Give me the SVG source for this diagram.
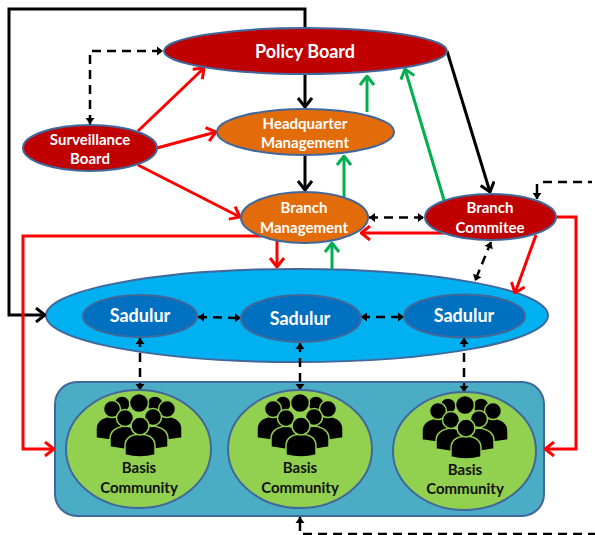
<svg xmlns="http://www.w3.org/2000/svg" xmlns:xlink="http://www.w3.org/1999/xlink" width="595" height="535" viewBox="0 0 595 535">
<style>
.n{stroke:#41689a;stroke-width:2}
.t{font-family:Lato,"Liberation Sans",sans-serif;font-weight:700;text-anchor:middle}
.w{fill:#fff;font-size:15px}
.b{fill:#111;font-size:15px}
.l{font-size:18px}
.c{fill:none;stroke-width:3}
.k{stroke:#000}
.r{stroke:#f00}
.g{stroke:#00b050}
.d{fill:none;stroke:#000;stroke-width:2.500;stroke-dasharray:9 6}
.body{fill:#000;stroke:#92d050;stroke-width:1.500}
</style>
<defs>
<marker id="ak" markerUnits="userSpaceOnUse" viewBox="-11 -8 12 16" refX="0" refY="0" markerWidth="12" markerHeight="16" orient="auto"><path d="M-9-7L0 0L-9 7" fill="none" stroke="#000" stroke-width="3"/></marker>
<marker id="ar" markerUnits="userSpaceOnUse" viewBox="-11 -8 12 16" refX="0" refY="0" markerWidth="12" markerHeight="16" orient="auto"><path d="M-9-7L0 0L-9 7" fill="none" stroke="#f00" stroke-width="3"/></marker>
<marker id="ag" markerUnits="userSpaceOnUse" viewBox="-11 -8 12 16" refX="0" refY="0" markerWidth="12" markerHeight="16" orient="auto"><path d="M-9-7L0 0L-9 7" fill="none" stroke="#00b050" stroke-width="3"/></marker>
<marker id="tri" markerUnits="userSpaceOnUse" viewBox="-7 -5 8 10" refX="0" refY="0" markerWidth="8" markerHeight="10" orient="auto-start-reverse"><path d="M-6-4.500L0 0L-6 4.500Z" fill="#000"/></marker>
<g id="people">
<circle class="body" cx="-17" cy="1" r="8"/><circle class="body" cx="16" cy="1" r="8"/>
<circle class="body" cx="0" cy="0" r="9.500"/>
<path class="body" d="M-43 35V26Q-43 15-28 13Q-10 14-8 26V40Z"/>
<path class="body" d="M43 35V26Q43 15 28 13Q10 14 8 26V40Z"/>
<circle class="body" cx="-27" cy="6" r="8.500"/><circle class="body" cx="28" cy="6" r="8.500"/>
<path class="body" d="M-29 44V36Q-29 25-14 23Q1 24 2 36V49Z"/>
<path class="body" d="M29 44V36Q29 25 14 23Q-1 24-2 36V49Z"/>
<circle class="body" cx="-14" cy="15" r="8.500"/><circle class="body" cx="14" cy="14" r="8.500"/>
<path class="body" d="M-14 52V43Q-14 32 1 31Q16 32 16 43V52Q1 56-14 52Z"/>
<circle class="body" cx="1" cy="23" r="9"/>
</g>
</defs>

<g id="community-panel"><rect class="n" x="55" y="382" width="489" height="134" rx="22" fill="#4bacc6"/></g>
<g id="sadulur-group"><ellipse class="n" cx="297" cy="315.500" rx="251" ry="46.500" fill="#00b0f0"/></g>

<g id="connectors">
<path class="c k" d="M305 28V9H9V315H45" marker-end="url(#ak)"/>
<path class="c k" d="M305 74V107" marker-end="url(#ak)"/>
<path class="c k" d="M305 155V190" marker-end="url(#ak)"/>
<path class="c k" d="M447 51L490 192" marker-end="url(#ak)"/>
<path class="c r" d="M138 131L204 68" marker-end="url(#ar)"/>
<path class="c r" d="M157 148L216 132" marker-end="url(#ar)"/>
<path class="c r" d="M138 165L240 217" marker-end="url(#ar)"/>
<path class="c r" d="M277 237V267" marker-end="url(#ar)"/>
<path class="c r" d="M445 233H361" marker-end="url(#ar)"/>
<path class="c r" d="M536 235L515 293" marker-end="url(#ar)"/>
<path class="c r" d="M262 236H23V449H54" marker-end="url(#ar)"/>
<path class="c r" d="M556 217H576V449H545" marker-end="url(#ar)"/>
<path class="c g" d="M367 112V76" marker-end="url(#ag)"/>
<path class="c g" d="M344 197V156" marker-end="url(#ag)"/>
<path class="c g" d="M332 269V243" marker-end="url(#ag)"/>
<path class="c g" d="M444 200L405 69" marker-end="url(#ag)"/>
<path class="d" d="M90 124V51H163" marker-start="url(#tri)" marker-end="url(#tri)"/>
<path class="d" d="M369 217.500H424" marker-start="url(#tri)" marker-end="url(#tri)"/>
<path class="d" d="M491 242L475 281" marker-start="url(#tri)" marker-end="url(#tri)"/>
<path class="d" d="M198 317L241 318" marker-start="url(#tri)" marker-end="url(#tri)"/>
<path class="d" d="M361 317H404" marker-start="url(#tri)" marker-end="url(#tri)"/>
<path class="d" d="M140 338V390" marker-start="url(#tri)" marker-end="url(#tri)"/>
<path class="d" d="M300 343V390" marker-start="url(#tri)" marker-end="url(#tri)"/>
<path class="d" d="M464 338V392" marker-start="url(#tri)" marker-end="url(#tri)"/>
<path class="d" d="M543 182H592"/>
<path d="M537 184V199" fill="none" stroke="#000" stroke-width="2.500" marker-end="url(#tri)"/>
<path d="M300 531V517" fill="none" stroke="#000" stroke-width="2.500" marker-end="url(#tri)"/>
<path class="d" d="M303 534H595"/>
</g>

<g id="policy-board"><ellipse class="n" cx="305.500" cy="51" rx="141.500" ry="23" fill="#c00000"/><text class="t w l" x="305" y="58">Policy Board</text></g>
<g id="surveillance-board"><ellipse class="n" cx="90" cy="148" rx="67" ry="23" fill="#c00000"/><text class="t w" x="90" y="145">Surveillance</text><text class="t w" x="90" y="164">Board</text></g>
<g id="headquarter-management"><ellipse class="n" cx="305.500" cy="132" rx="88.500" ry="23" fill="#e36c0a"/><text class="t w" x="305" y="129">Headquarter</text><text class="t w" x="305" y="148">Management</text></g>
<g id="branch-management"><ellipse class="n" cx="304.500" cy="217.500" rx="63.500" ry="25.500" fill="#e36c0a"/><text class="t w" x="304" y="213">Branch</text><text class="t w" x="304" y="233">Management</text></g>
<g id="branch-committee"><ellipse class="n" cx="490.500" cy="217" rx="65.500" ry="23" fill="#c00000"/><text class="t w" x="490" y="213">Branch</text><text class="t w" x="490" y="233">Commitee</text></g>
<g id="sadulur-1"><ellipse class="n" cx="140" cy="316" rx="57" ry="21" fill="#0070c0"/><text class="t w l" x="140" y="322">Sadulur</text></g>
<g id="sadulur-2"><ellipse class="n" cx="301" cy="318.500" rx="60" ry="23.500" fill="#0070c0"/><text class="t w l" x="300" y="325">Sadulur</text></g>
<g id="sadulur-3"><ellipse class="n" cx="464.500" cy="316" rx="60.500" ry="21.500" fill="#0070c0"/><text class="t w l" x="464" y="322">Sadulur</text></g>
<g id="community-1"><ellipse class="n" cx="138.500" cy="449" rx="72.500" ry="59" fill="#92d050"/><use xlink:href="#people" href="#people" x="139" y="403"/><text class="t b" x="139" y="473">Basis</text><text class="t b" x="139" y="493">Community</text></g>
<g id="community-2"><ellipse class="n" cx="300" cy="449" rx="72" ry="59" fill="#92d050"/><use xlink:href="#people" href="#people" x="300" y="403"/><text class="t b" x="300" y="473">Basis</text><text class="t b" x="300" y="493">Community</text></g>
<g id="community-3"><ellipse class="n" cx="464.500" cy="451" rx="71.500" ry="59" fill="#92d050"/><use xlink:href="#people" href="#people" x="465" y="405"/><text class="t b" x="465" y="475">Basis</text><text class="t b" x="465" y="494">Community</text></g>
</svg>
